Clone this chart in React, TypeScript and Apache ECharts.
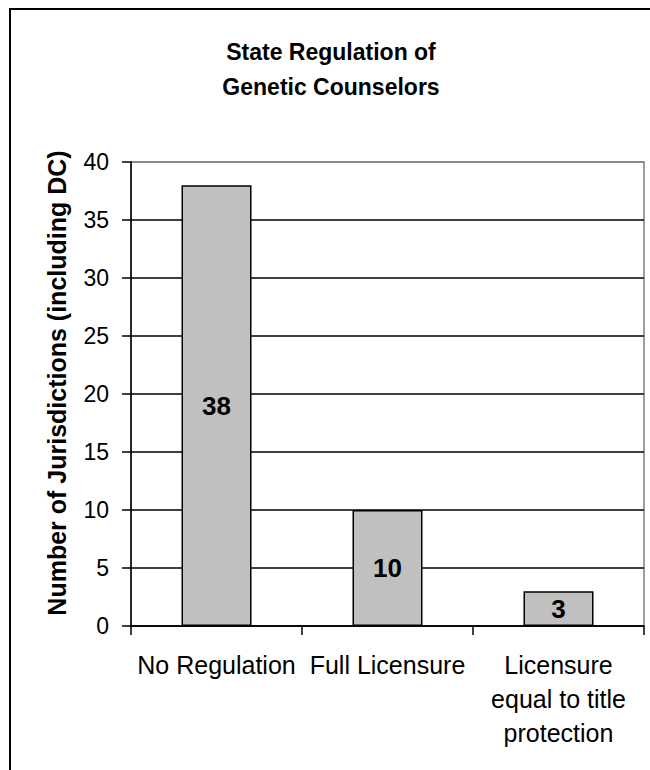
import React, { useEffect, useRef } from "react";
import * as echarts from "echarts";

const categories = ["No Regulation", "Full Licensure", "Licensure\nequal to title\nprotection"];
const values = [38, 10, 3];
const titleLines = ["State Regulation of", "Genetic Counselors"];
const yAxisName = "Number of Jurisdictions (including DC)";

const FONT = "'Liberation Sans', Arial, sans-serif";

export default function App() {
  const ref = useRef<HTMLDivElement>(null);
  useEffect(() => {
    if (!ref.current) return;
    const chart = echarts.init(ref.current, null, { renderer: "svg" });
    chart.setOption({
      animation: false,
      backgroundColor: "#ffffff",
      title: {
        text: titleLines.join("\n"),
        left: 326,
        top: 29,
        textAlign: "center",
        textStyle: { fontFamily: FONT, fontSize: 23, fontWeight: "bold", color: "#000", lineHeight: 35 },
      },
      graphic: [
        {
          type: "rect",
          shape: { x: 10, y: 9, width: 700, height: 800 },
          style: { fill: "none", stroke: "#000", lineWidth: 2 },
          silent: true,
        },
      ],
      grid: {
        left: 131,
        right: 6,
        top: 162,
        bottom: 144,
        show: true,
        borderColor: "#808080",
        borderWidth: 1.5,
        backgroundColor: "transparent",
      },
      xAxis: {
        type: "category",
        data: categories,
        axisLine: { lineStyle: { color: "#000", width: 1.5 } },
        axisTick: { show: true, length: 9, lineStyle: { color: "#000", width: 1.5 } },
        axisLabel: {
          color: "#000",
          fontFamily: FONT,
          fontSize: 25,
          lineHeight: 34,
          margin: 22,
          interval: 0,
        },
      },
      yAxis: {
        type: "value",
        min: 0,
        max: 40,
        interval: 5,
        name: yAxisName,
        nameLocation: "middle",
        nameGap: 62,
        nameTextStyle: {
          fontFamily: FONT,
          fontSize: 25,
          fontWeight: "bold",
          color: "#000",
          padding: [0, 0, 0, 22],
        },
        axisLine: { show: true, lineStyle: { color: "#000", width: 1.5 } },
        axisTick: { show: true, length: 9, lineStyle: { color: "#000", width: 1.5 } },
        axisLabel: { color: "#000", fontFamily: FONT, fontSize: 23, margin: 22 },
        splitLine: {
          show: true,
          lineStyle: {
            color: ["#000", "#000", "#000", "#000", "#000", "#000", "#000", "#000", "#808080"],
            width: 1.5,
          },
        },
      },
      series: [
        {
          type: "bar",
          data: values,
          barWidth: 70,
          itemStyle: { color: "#C0C0C0", borderColor: "#000", borderWidth: 1.5 },
          label: {
            show: true,
            position: "inside",
            color: "#000",
            fontFamily: FONT,
            fontSize: 26,
            fontWeight: "bold",
          },
        },
      ],
    });
    return () => chart.dispose();
  }, []);
  return (
    <div
      ref={ref}
      style={{ position: "fixed", left: 0, top: 0, width: 650, height: 770 }}
    />
  );
}
